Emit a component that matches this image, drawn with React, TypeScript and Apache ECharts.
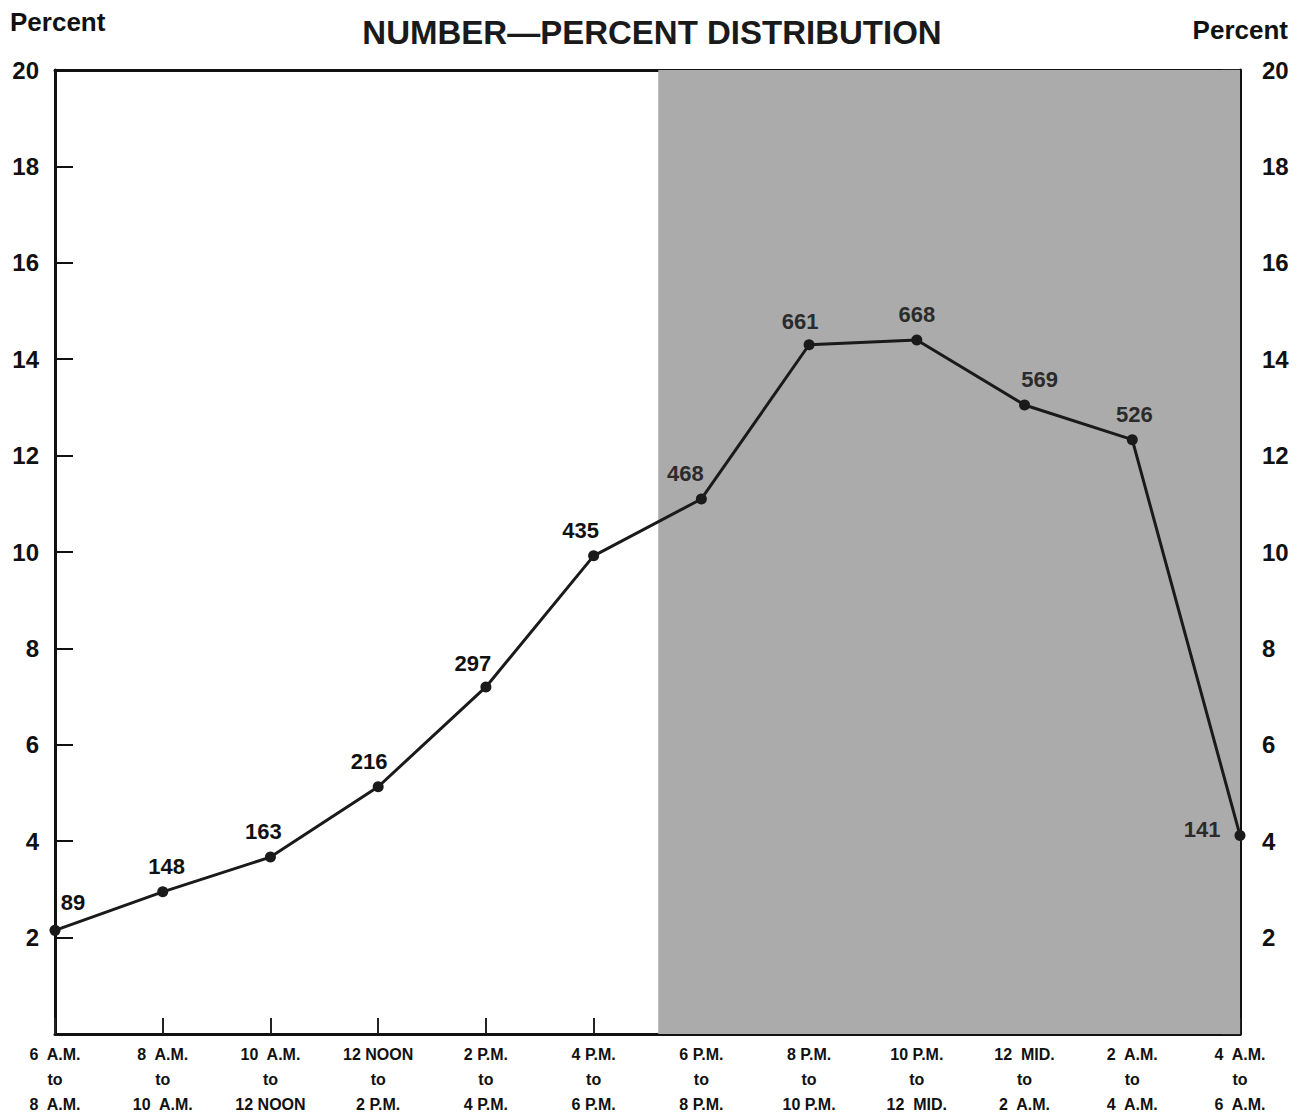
import React, { useEffect, useRef } from "react";
import * as echarts from "echarts";

const startTimes = ["6  A.M.", "8  A.M.", "10  A.M.", "12 NOON", "2 P.M.", "4 P.M.", "6 P.M.", "8 P.M.", "10 P.M.", "12  MID.", "2  A.M.", "4  A.M."];
const endTimes = ["8  A.M.", "10  A.M.", "12 NOON", "2 P.M.", "4 P.M.", "6 P.M.", "8 P.M.", "10 P.M.", "12  MID.", "2  A.M.", "4  A.M.", "6  A.M."];
const counts = [89, 148, 163, 216, 297, 435, 468, 661, 668, 569, 526, 141];
const percents = [2.15, 2.95, 3.67, 5.13, 7.2, 9.92, 11.1, 14.3, 14.4, 13.05, 12.33, 4.12];
const yTicks = [2, 4, 6, 8, 10, 12, 14, 16, 18, 20];
const shadeStart = 5.6;
const shadeEnd = 11;

const FONT = "'Liberation Sans', Arial, Helvetica, sans-serif";

const labelOffsets: number[][] = [
  [18, -2], [4, 0], [-7, 0], [-9, 0], [-13, 2], [-13, 0],
  [-16, 0], [-9, 2], [0, 0], [15, 0], [2, 0], [-2, -6],
];

export default function App() {
  const ref = useRef<HTMLDivElement>(null);
  useEffect(() => {
    if (!ref.current) return;
    const chart = echarts.init(ref.current, undefined, { renderer: "svg" });
    const data = percents.map((p, i) => ({
      value: [i, p],
      label: {
        show: true,
        formatter: String(counts[i]),
        position: i === counts.length - 1 ? "left" : "top",
        distance: i === counts.length - 1 ? 12 : 9,
        offset: labelOffsets[i],
        color: i >= 6 ? "#2b2b2b" : "#111",
        fontFamily: FONT,
        fontWeight: "bold",
        fontSize: 22,
      },
    }));
    const yLabel = (v: number) => (yTicks.indexOf(v) >= 0 ? String(v) : "");
    const axisLineStyle = { show: true, onZero: false, lineStyle: { color: "#111", width: 3 } };
    chart.setOption({
      animation: false,
      backgroundColor: "#fff",
      title: {
        text: "NUMBER\u2014PERCENT DISTRIBUTION",
        left: "center",
        top: 11,
        textStyle: { fontFamily: FONT, fontWeight: "bold", fontSize: 33, color: "#1a1a1a" },
      },
      graphic: [
        { type: "text", left: 10, top: 9, style: { text: "Percent", fontFamily: FONT, fontWeight: "bold", fontSize: 26, fill: "#111" } },
        { type: "text", right: 16, top: 17, style: { text: "Percent", fontFamily: FONT, fontWeight: "bold", fontSize: 26, fill: "#111" } },
      ],
      grid: { left: 55, right: 64, top: 70, bottom: 77, containLabel: false },
      xAxis: [
        {
          type: "value",
          min: 0,
          max: 11,
          interval: 1,
          position: "bottom",
          axisLine: axisLineStyle,
          axisTick: { show: true, inside: true, length: 16, lineStyle: { color: "#222", width: 2 } },
          splitLine: { show: false },
          axisLabel: {
            show: true,
            showMinLabel: true,
            showMaxLabel: true,
            margin: 8,
            fontFamily: FONT,
            fontWeight: "bold",
            fontSize: 16,
            lineHeight: 25,
            color: "#111",
            formatter: (v: number) => {
              const i = Math.round(v);
              return startTimes[i] + "\nto\n" + endTimes[i];
            },
          },
        },
        {
          type: "value",
          min: 0,
          max: 11,
          position: "top",
          axisLine: axisLineStyle,
          axisTick: { show: false },
          axisLabel: { show: false },
          splitLine: { show: false },
        },
      ],
      yAxis: [
        {
          type: "value",
          min: 0,
          max: 20,
          interval: 2,
          position: "left",
          axisLine: axisLineStyle,
          axisTick: { show: true, inside: true, length: 18, lineStyle: { color: "#111", width: 2 } },
          splitLine: { show: false },
          axisLabel: { margin: 16, fontFamily: FONT, fontWeight: "bold", fontSize: 24, color: "#111", formatter: yLabel },
        },
        {
          type: "value",
          min: 0,
          max: 20,
          interval: 2,
          position: "right",
          axisLine: axisLineStyle,
          axisTick: { show: true, inside: true, length: 18, lineStyle: { color: "#222", width: 2 } },
          splitLine: { show: false },
          axisLabel: { margin: 22, fontFamily: FONT, fontWeight: "bold", fontSize: 24, color: "#111", formatter: yLabel },
        },
      ],
      series: [
        {
          type: "line",
          xAxisIndex: 0,
          yAxisIndex: 0,
          data,
          symbol: "circle",
          symbolSize: 11,
          itemStyle: { color: "#1a1a1a" },
          lineStyle: { color: "#1a1a1a", width: 3 },
          z: 5,
          markArea: {
            silent: true,
            itemStyle: { color: "#ababab" },
            data: [[{ xAxis: shadeStart }, { xAxis: shadeEnd }]],
          },
        },
      ],
    });
    return () => chart.dispose();
  }, []);
  return <div ref={ref} style={{ position: "absolute", left: 0, top: 0, width: 1304, height: 1117 }} />;
}
